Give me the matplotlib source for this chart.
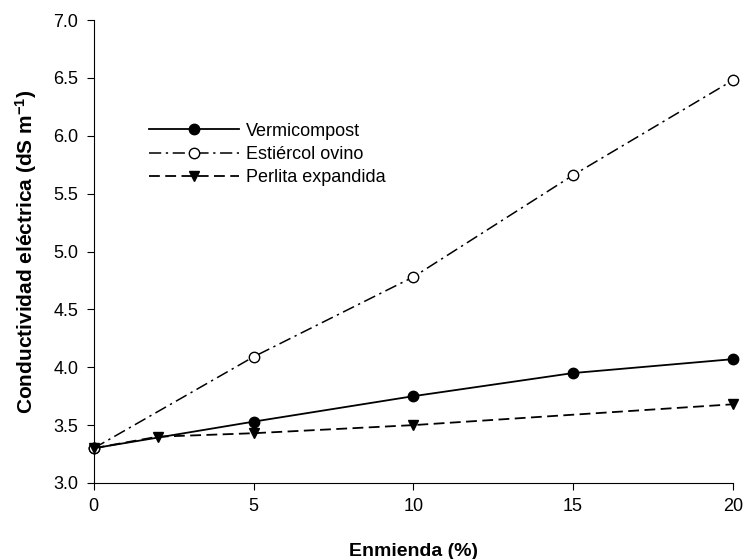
import matplotlib
matplotlib.use("Agg")
import matplotlib.pyplot as plt

plt.rcParams['font.family'] = ['Liberation Sans', 'DejaVu Sans']
plt.rcParams['mathtext.default'] = 'regular'

x_verm = [0, 5, 10, 15, 20]
y_verm = [3.30, 3.53, 3.75, 3.95, 4.07]
x_est = [0, 5, 10, 15, 20]
y_est = [3.30, 4.09, 4.78, 5.66, 6.48]
x_perl = [0, 2, 5, 10, 20]
y_perl = [3.30, 3.40, 3.43, 3.50, 3.68]

fig = plt.figure(figsize=(7.44, 5.59), dpi=100)
ax = fig.add_axes([0.126, 0.136, 0.859, 0.828])

ax.plot(x_verm, y_verm, color='black', lw=1.3, marker='o', ms=7.5,
        mfc='black', mec='black', label='Vermicompost', clip_on=False, zorder=3)
ax.plot(x_est, y_est, color='black', lw=1.1, ls=(0, (8, 3, 1.5, 3)), marker='o', ms=7.5,
        mfc='white', mec='black', label='Estiércol ovino', clip_on=False, zorder=3)
ax.plot(x_perl, y_perl, color='black', lw=1.3, ls=(0, (6, 3)), marker='v', ms=7.5,
        mfc='black', mec='black', label='Perlita expandida', clip_on=False, zorder=3)

ax.set_xlim(0, 20)
ax.set_ylim(3.0, 7.0)
ax.set_xticks([0, 5, 10, 15, 20])
yt = [3.0, 3.5, 4.0, 4.5, 5.0, 5.5, 6.0, 6.5, 7.0]
ax.set_yticks(yt)
ax.set_yticklabels([f"{v:.1f}" for v in yt])
ax.spines['top'].set_visible(False)
ax.spines['right'].set_visible(False)
ax.tick_params(direction='out', length=5, labelsize=13, pad=6)
ax.set_xlabel('Enmienda (%)', fontsize=14, fontweight='bold', labelpad=20)
ax.set_ylabel('Conductividad eléctrica (dS m$^{-1}$)', fontsize=15, fontweight='bold', labelpad=10)

ax.legend(loc='center left', bbox_to_anchor=(0.061, 0.71), frameon=False, fontsize=13,
          handlelength=5.0, labelspacing=0.35, handletextpad=0.35)

fig.savefig('out.png', dpi=100)
